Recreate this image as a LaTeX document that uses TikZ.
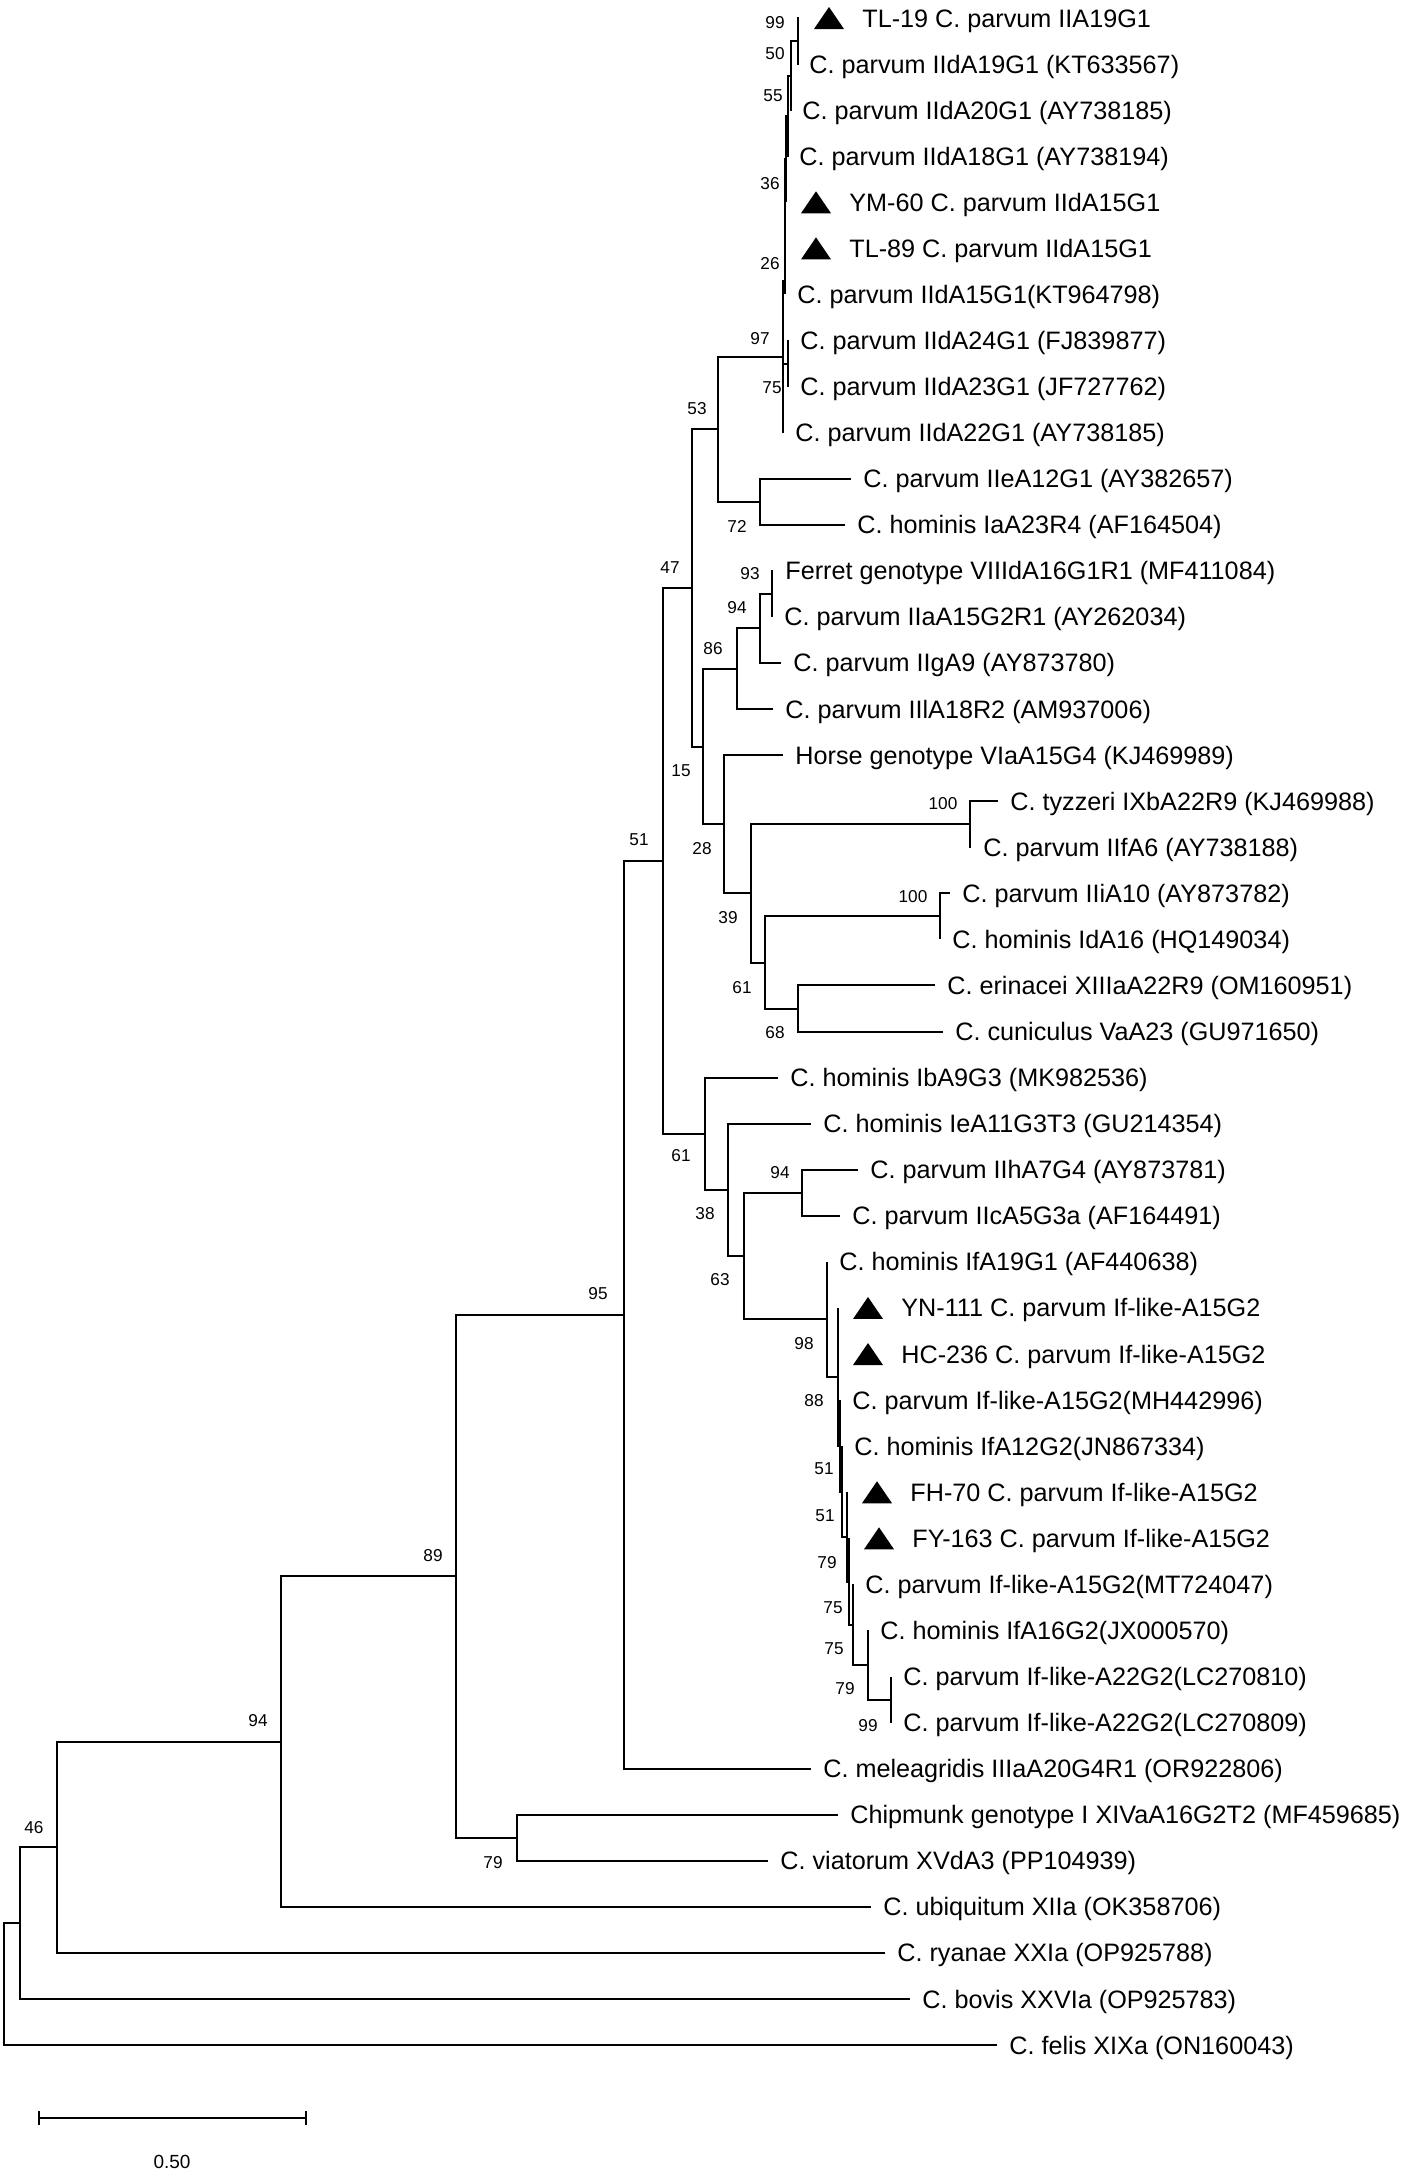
\documentclass[tikz,border=0pt]{standalone}
\usepackage{fontspec}
\setmainfont{Liberation Sans}
\usetikzlibrary{positioning}

\begin{document}
\begin{tikzpicture}[x=0.5pt,y=-0.5pt,
        branch/.style={line width=1pt},
        taxon/.style={inner sep=0pt,text height=9pt,text depth=0pt,
                      font=\fontsize{12.6}{15}\selectfont},
        boot/.style={inner sep=0pt,text height=6.2pt,text depth=0pt,
                     font=\fontsize{8.6}{10}\selectfont},
        pics/isolate/.style={code={\fill (-15,11) -- (15,11) -- (0,-11) -- cycle;}}]
  \useasboundingbox (0,0) rectangle (1406,2174);

  % tips of the taxa, one row every 46.07
  \foreach \i/\x in {1/799,2/797,3/790,4/787,5/786,6/786,7/785,8/788,9/788,10/783,
                     11/851,12/845,13/773,14/772,15/781,16/773,17/783,18/998,19/971,20/950,
                     21/940,22/935,23/943,24/778,25/811,26/858,27/840,28/827,29/838,30/838,
                     31/840,32/842,33/847,34/849,35/853,36/868,37/891,38/891,39/811,40/838,
                     41/768,42/871,43/885,44/910,45/997}
    \coordinate (t\i) at (\x,{18+46.07*(\i-1)});

  % inner nodes of the tree
  \coordinate (a99)  at (798,41);    \coordinate (a50)  at (791,75.6);
  \coordinate (a55)  at (788,115.9); \coordinate (a36)  at (786,159.2);
  \coordinate (a26)  at (785,281);   \coordinate (a75)  at (788,363.5);
  \coordinate (a97)  at (783,357);   \coordinate (a72)  at (760,501.7);
  \coordinate (a53)  at (718,429.4); \coordinate (a93)  at (772,593.9);
  \coordinate (a94)  at (760,628.4); \coordinate (a86)  at (737,668.7);
  \coordinate (a100) at (970,824.2); \coordinate (a100b) at (940,916.4);
  \coordinate (a68)  at (798,1008.5); \coordinate (a61b) at (765,962.5);
  \coordinate (a39)  at (751,893.3); \coordinate (a28)  at (724,824.2);
  \coordinate (a15)  at (703,746.5); \coordinate (a47)  at (692,588);
  \coordinate (a99b) at (891,1699.6); \coordinate (a79b) at (868,1665);
  \coordinate (a75b) at (853,1624.7); \coordinate (a75a) at (849,1581.5);
  \coordinate (a79a) at (847,1536.9); \coordinate (a51b) at (842,1491.5);
  \coordinate (a51a) at (840,1445.8); \coordinate (a88)  at (838,1376.9);
  \coordinate (a98)  at (827,1319.4); \coordinate (a94b) at (802,1192.8);
  \coordinate (a63)  at (744,1256.1); \coordinate (a38)  at (728,1189.9);
  \coordinate (a61)  at (705,1133.8); \coordinate (a51)  at (663,860.9);
  \coordinate (a95)  at (624,1314.8); \coordinate (a79c) at (517,1837.8);
  \coordinate (a89)  at (456,1576.3); \coordinate (a94c) at (281,1741.6);
  \coordinate (a46)  at (57,1847.3);  \coordinate (a0)   at (20,1923.2);
  \coordinate (root) at (4,1984.1);

  % branches
  \draw[branch] (t1) -| (a99) |- (t2);
  \draw[branch] (a99) -| (a50) |- (t3);
  \draw[branch] (a50) -| (a55) |- (t4);
  \draw[branch] (a55) -| (a36) |- (t5);
  \draw[branch] (a36) -| (a26) |- (t7);
  \draw[branch] (a26) |- (t6);
  \draw[branch] (t8) -| (a75) |- (t9);
  \draw[branch] (a26) -| (a97) |- (t10);
  \draw[branch] (a97) |- (a75);
  \draw[branch] (t11) -| (a72) |- (t12);
  \draw[branch] (a97) -| (a53) |- (a72);
  \draw[branch] (t13) -| (a93) |- (t14);
  \draw[branch] (a93) -| (a94) |- (t15);
  \draw[branch] (a94) -| (a86) |- (t16);
  \draw[branch] (t18) -| (a100) |- (t19);
  \draw[branch] (t20) -| (a100b) |- (t21);
  \draw[branch] (t22) -| (a68) |- (t23);
  \draw[branch] (a100b) -| (a61b) |- (a68);
  \draw[branch] (a100) -| (a39) |- (a61b);
  \draw[branch] (t17) -| (a28) |- (a39);
  \draw[branch] (a86) -| (a15) |- (a28);
  \draw[branch] (a53) -| (a47) |- (a15);
  \draw[branch] (t37) -| (a99b) |- (t38);
  \draw[branch] (t36) -| (a79b) |- (a99b);
  \draw[branch] (t35) -| (a75b) |- (a79b);
  \draw[branch] (t34) -| (a75a) |- (a75b);
  \draw[branch] (t33) -| (a79a) |- (a75a);
  \draw[branch] (t32) -| (a51b) |- (a79a);
  \draw[branch] (t31) -| (a51a) |- (a51b);
  \draw[branch] (t29) -| (a88) |- (a51a);
  \draw[branch] (a88) |- (t30);
  \draw[branch] (t28) -| (a98) |- (a88);
  \draw[branch] (t26) -| (a94b) |- (t27);
  \draw[branch] (a94b) -| (a63) |- (a98);
  \draw[branch] (t25) -| (a38) |- (a63);
  \draw[branch] (t24) -| (a61) |- (a38);
  \draw[branch] (a47) -| (a51) |- (a61);
  \draw[branch] (a51) -| (a95) |- (t39);
  \draw[branch] (t40) -| (a79c) |- (t41);
  \draw[branch] (a95) -| (a89) |- (a79c);
  \draw[branch] (a89) -| (a94c) |- (t42);
  \draw[branch] (a94c) -| (a46) |- (t43);
  \draw[branch] (a46) -| (a0) |- (t44);
  \draw[branch] (a0) -| (root) |- (t45);

  % reference sequences
  \foreach \i/\name in {2/{C. parvum IIdA19G1 (KT633567)},3/{C. parvum IIdA20G1 (AY738185)},
      4/{C. parvum IIdA18G1 (AY738194)},7/{C. parvum IIdA15G1(KT964798)},
      8/{C. parvum IIdA24G1 (FJ839877)},9/{C. parvum IIdA23G1 (JF727762)},
      10/{C. parvum IIdA22G1 (AY738185)},11/{C. parvum IIeA12G1 (AY382657)},
      12/{C. hominis IaA23R4 (AF164504)},13/{Ferret genotype VIIIdA16G1R1 (MF411084)},
      14/{C. parvum IIaA15G2R1 (AY262034)},15/{C. parvum IIgA9 (AY873780)},
      16/{C. parvum IIlA18R2 (AM937006)},17/{Horse genotype VIaA15G4 (KJ469989)},
      18/{C. tyzzeri IXbA22R9 (KJ469988)},19/{C. parvum IIfA6 (AY738188)},
      20/{C. parvum IIiA10 (AY873782)},21/{C. hominis IdA16 (HQ149034)},
      22/{C. erinacei XIIIaA22R9 (OM160951)},23/{C. cuniculus VaA23 (GU971650)},
      24/{C. hominis IbA9G3 (MK982536)},25/{C. hominis IeA11G3T3 (GU214354)},
      26/{C. parvum IIhA7G4 (AY873781)},27/{C. parvum IIcA5G3a (AF164491)},
      28/{C. hominis IfA19G1 (AF440638)},31/{C. parvum If-like-A15G2(MH442996)},
      32/{C. hominis IfA12G2(JN867334)},35/{C. parvum If-like-A15G2(MT724047)},
      36/{C. hominis IfA16G2(JX000570)},37/{C. parvum If-like-A22G2(LC270810)},
      38/{C. parvum If-like-A22G2(LC270809)},39/{C. meleagridis IIIaA20G4R1 (OR922806)},
      40/{Chipmunk genotype I XIVaA16G2T2 (MF459685)},41/{C. viatorum XVdA3 (PP104939)},
      42/{C. ubiquitum XIIa (OK358706)},43/{C. ryanae XXIa (OP925788)},
      44/{C. bovis XXVIa (OP925783)},45/{C. felis XIXa (ON160043)}}
    \node[taxon,right=6pt of t\i] (l\i) {\name};

  % isolates of this study
  \foreach \i/\name in {1/{TL-19 C. parvum IIA19G1},5/{YM-60 C. parvum IIdA15G1},
      6/{TL-89 C. parvum IIdA15G1},29/{YN-111 C. parvum If-like-A15G2},
      30/{HC-236 C. parvum If-like-A15G2},33/{FH-70 C. parvum If-like-A15G2},
      34/{FY-163 C. parvum If-like-A15G2}} {
    \pic at ([xshift=15pt]t\i) {isolate};
    \node[taxon,right=31.5pt of t\i] (l\i) {\name};
  }

  % bootstrap values
  \foreach \v/\x/\y [count=\k] in {99/775/22,50/775/53,55/773/95,36/770/183,26/770/263,
      97/760/338,75/772/387,53/697/408,72/737/526,47/670/567,93/750/573,94/737/607,
      86/713/648,15/681/770,100/943/803,28/702/848,100/913/896,39/728/917,61/742/987,
      68/775/1032,51/639/839,61/681/1155,94/780/1172,38/705/1213,63/720/1279,
      98/804/1343,88/814/1400,51/824/1468,51/825/1515,79/827/1562,75/833/1607,
      75/834/1648,79/845/1688,99/868/1725,95/598/1293,89/433/1555,94/258/1720,
      79/493/1862,46/34/1827}
    \node[boot] (bs\k) at (\x,\y) {\v};

  % scale bar
  \coordinate (s0) at (39,2118);
  \coordinate (s1) at (306,2118);
  \draw[branch] (s0) -- (s1);
  \draw[branch] (s0) ++(0,-7) -- ++(0,14);
  \draw[branch] (s1) ++(0,-7) -- ++(0,14);
  \node[inner sep=0pt,font=\fontsize{9.5}{11}\selectfont] (scale) at (172,2162) {0.50};
\end{tikzpicture}
\end{document}
